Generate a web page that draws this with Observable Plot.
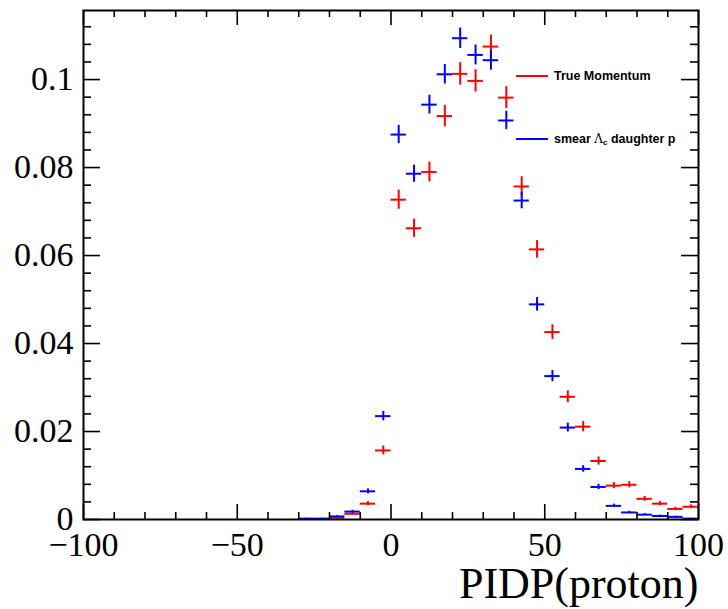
<!DOCTYPE html>
<html><head><meta charset="utf-8">
<script src="https://cdn.jsdelivr.net/npm/d3@7"></script>
<script src="https://cdn.jsdelivr.net/npm/@observablehq/plot@0.6"></script>
<style>
body{margin:0;background:#fff;}
#wrap{position:relative;width:728px;height:609px;overflow:hidden;}
.legline{position:absolute;height:2px;width:32px;left:516px;}
.legtext{position:absolute;left:554px;font-family:"Liberation Sans",Arial,sans-serif;font-weight:bold;font-size:12.5px;line-height:14px;color:#000;white-space:nowrap;}
.legtext .greek{font-family:"DejaVu Serif","Liberation Serif",serif;font-weight:normal;font-size:12px;}
.legtext sub{font-size:8px;vertical-align:-2px;line-height:0;}
</style></head><body><div id="wrap"></div>
<script>
// ---- data ----
const binCenters = [-27.5,-22.5,-17.5,-12.5,-7.5,-2.5,2.5,7.5,12.5,17.5,22.5,27.5,32.5,37.5,42.5,47.5,52.5,57.5,62.5,67.5,72.5,77.5,82.5,87.5,92.5,97.5];
const binWidth = 5;
const trueMomentum = [null,null,0.0004,0.0013,0.0036,0.0157,0.0727,0.0662,0.0790,0.0917,0.1013,0.0997,0.1075,0.0959,0.0757,0.0614,0.0426,0.0279,0.0211,0.0133,0.0077,0.0079,0.0047,0.0036,0.0024,0.0029];
const trueMomentumErr = [null,null,0.00016,0.00029,0.00048,0.00101,0.00217,0.00207,0.00226,0.00243,0.00256,0.00254,0.00263,0.00249,0.00221,0.00199,0.00166,0.00134,0.00117,0.00093,0.00070,0.00071,0.00055,0.00048,0.00039,0.00043];
const smearDaughter = [0.0002,0.0002,0.0007,0.0018,0.0064,0.0235,0.0875,0.0786,0.0943,0.1012,0.1094,0.1056,0.1044,0.0907,0.0725,0.0489,0.0326,0.0209,0.0115,0.0074,0.0031,0.0016,0.0011,0.0008,0.0006,0.0002];
const smearDaughterErr = [0.0001,0.0001,0.00018,0.0003,0.00056,0.00107,0.00207,0.00196,0.00214,0.00222,0.00231,0.00227,0.00226,0.0021,0.00188,0.00154,0.00126,0.00101,0.00075,0.0006,0.00039,0.00028,0.00023,0.0002,0.00017,0.0001];
const seriesNames = ["True Momentum","smear \u039B_c daughter p"];
const seriesColors = ["#ff0000","#0000ff"];
const xTicks = [-100,-50,0,50,100];
const xTickLabels = ["\u2212100","\u221250","0","50","100"];
const yTicks = [0,0.02,0.04,0.06,0.08,0.1];
const yTickLabels = ["0","0.02","0.04","0.06","0.08","0.1"];
const xTitle = "PIDP(proton)";
const xDomain = [-100,100];
const yDomain = [0,0.1157];

// ---- layout ----
const W = 728, H = 609, mL = 83, mR = 30, mT = 10, mB = 90;
const plotW = W - mL - mR, plotH = H - mT - mB;

function rows(vals, errs){
  const out = [];
  binCenters.forEach((c,i)=>{ if(vals[i]!=null) out.push({x:c, v:vals[i], e:errs[i]}); });
  return out;
}
const series = [rows(trueMomentum,trueMomentumErr), rows(smearDaughter,smearDaughterErr)];

const xMinor = d3.range(-90,100,10).filter(v=>!xTicks.includes(v));
const yMinor = d3.range(1,29).map(k=>+(k*0.004).toFixed(3)).filter(v=>!yTicks.some(t=>Math.abs(t-v)<1e-9));

const font = "'Liberation Serif', 'Times New Roman', serif";
const marks = [];
series.forEach((s,k)=>{
  marks.push(Plot.ruleY(s,{y:"v",x1:d=>d.x-binWidth/2,x2:d=>d.x+binWidth/2,stroke:seriesColors[k],strokeWidth:2}));
  marks.push(Plot.ruleX(s,{x:"x",y1:d=>d.v-d.e,y2:d=>d.v+d.e,stroke:seriesColors[k],strokeWidth:2}));
});
// inward ticks (ROOT style), on all four sides
marks.push(
  Plot.tickX(xTicks,{x:d=>d,insetTop:plotH-15,stroke:"black",strokeWidth:1.6}),
  Plot.tickX(xTicks,{x:d=>d,insetBottom:plotH-15,stroke:"black",strokeWidth:1.6}),
  Plot.tickX(xMinor,{x:d=>d,insetTop:plotH-7,stroke:"black",strokeWidth:1.6}),
  Plot.tickX(xMinor,{x:d=>d,insetBottom:plotH-7,stroke:"black",strokeWidth:1.6}),
  Plot.tickY(yTicks,{y:d=>d,insetRight:plotW-17,stroke:"black",strokeWidth:1.6}),
  Plot.tickY(yTicks,{y:d=>d,insetLeft:plotW-17,stroke:"black",strokeWidth:1.6}),
  Plot.tickY(yMinor,{y:d=>d,insetRight:plotW-8,stroke:"black",strokeWidth:1.6}),
  Plot.tickY(yMinor,{y:d=>d,insetLeft:plotW-8,stroke:"black",strokeWidth:1.6}),
  Plot.frame({stroke:"black",strokeWidth:2}),
  Plot.axisX(xTicks,{tickSize:0,tickPadding:12,tickFormat:d=>xTickLabels[xTicks.indexOf(d)],fontSize:34,fontFamily:font,fill:"black",label:null}),
  Plot.axisY(yTicks,{tickSize:0,tickPadding:10,tickFormat:d=>yTickLabels[yTicks.indexOf(d)],fontSize:34,fontFamily:font,fill:"black",label:null}),
  Plot.text([xTitle],{text:d=>d,frameAnchor:"bottom-right",lineAnchor:"middle",dy:64,textAnchor:"end",fontSize:44,fontFamily:font,fill:"black"})
);

const chart = Plot.plot({
  width:W,height:H,marginLeft:mL,marginRight:mR,marginTop:mT,marginBottom:mB,
  x:{domain:xDomain,label:null},
  y:{domain:yDomain,label:null},
  style:{background:"white",color:"black",fontFamily:font,overflow:"visible"},
  marks
});
const wrap = document.getElementById("wrap");
wrap.appendChild(chart);

// legend overlay
const legTop = [75, 138];
seriesNames.forEach((name,k)=>{
  const ln = document.createElement("div");
  ln.className="legline"; ln.style.top=legTop[k]+"px"; ln.style.background=seriesColors[k];
  wrap.appendChild(ln);
  const tx = document.createElement("div");
  tx.className="legtext"; tx.style.top=(legTop[k]-6)+"px";
  const m = name.match(/^(.*?)([\u0391-\u03C9])_(\w)(.*)$/);
  if(m){
    tx.append(m[1]);
    const g=document.createElement("span"); g.className="greek"; g.textContent=m[2]; tx.append(g);
    const sb=document.createElement("sub"); sb.textContent=m[3]; tx.append(sb);
    tx.append(m[4]);
  } else tx.textContent=name;
  wrap.appendChild(tx);
});
</script></body></html>
